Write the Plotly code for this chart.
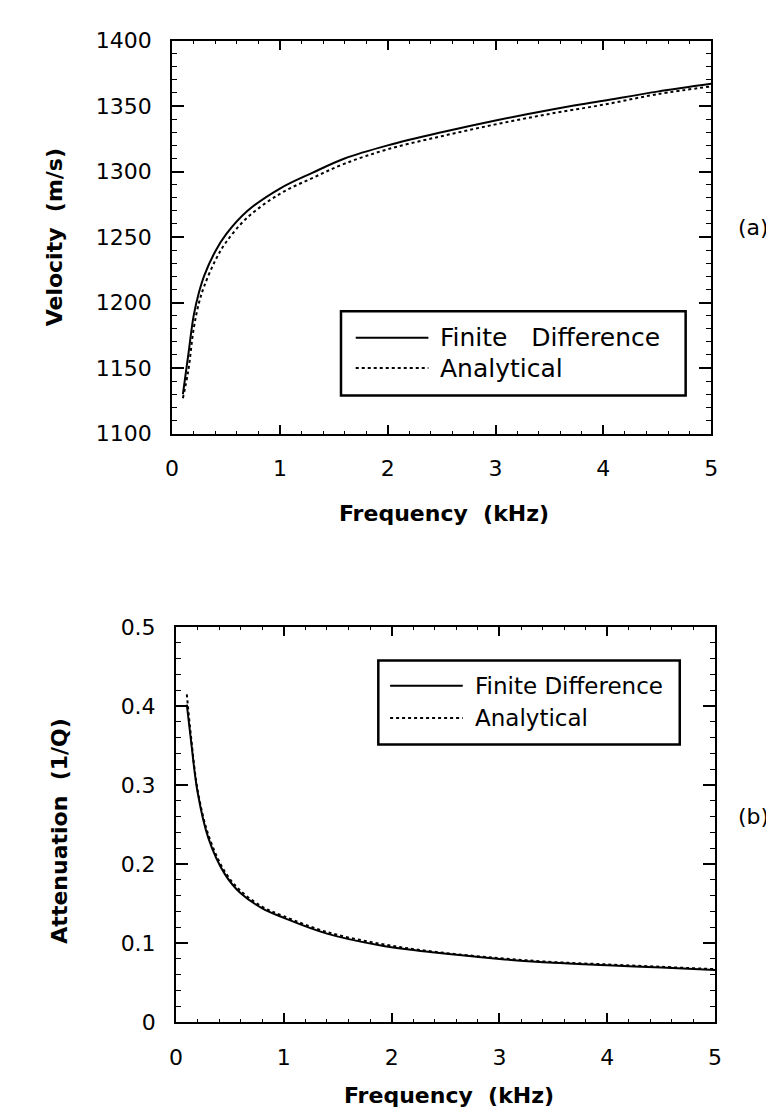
import plotly.graph_objects as go

# ---- data ----
freq_a = [0.1, 0.15, 0.2, 0.25, 0.3, 0.4, 0.5, 0.7, 1.0, 1.3, 1.6, 2.0, 2.5, 3.0, 3.5, 4.0, 4.5, 5.0]
vel_fd = [1130, 1160, 1190, 1208, 1221, 1239, 1252, 1270, 1287, 1299, 1310, 1320, 1330, 1339, 1347, 1354, 1361, 1367]
vel_an = [1127, 1148, 1180, 1200, 1213, 1232, 1246, 1265, 1283, 1295, 1306, 1317, 1327, 1336, 1344, 1351, 1359, 1365]

freq_b = [0.1, 0.14, 0.2, 0.3, 0.45, 0.6, 0.8, 1.0, 1.4, 1.9, 2.4, 3.0, 3.5, 4.0, 4.5, 5.0]
att_fd = [0.402, 0.355, 0.291, 0.233, 0.188, 0.163, 0.144, 0.132, 0.112, 0.097, 0.088, 0.080, 0.075, 0.072, 0.069, 0.066]
att_an = [0.415, 0.36, 0.294, 0.237, 0.191, 0.166, 0.146, 0.134, 0.114, 0.099, 0.089, 0.081, 0.076, 0.073, 0.070, 0.067]

names_a = ["Finite\u00a0\u00a0\u00a0Difference", "Analytical"]
names_b = ["Finite Difference", "Analytical"]
dashes = ["solid", "dot"]

W, H = 774, 1120
FONT = "DejaVu Sans"


def px(x):
    return x / W


def py(y):
    return 1 - y / H


fig = go.Figure()
fig.add_trace(go.Scatter(x=freq_a, y=vel_fd, mode="lines", name=names_a[0], line=dict(color="black", width=2, dash=dashes[0], shape="spline"), xaxis="x", yaxis="y"))
fig.add_trace(go.Scatter(x=freq_a, y=vel_an, mode="lines", name=names_a[1], line=dict(color="black", width=2, dash=dashes[1], shape="spline"), xaxis="x", yaxis="y"))
fig.add_trace(go.Scatter(x=freq_b, y=att_fd, mode="lines", name=names_b[0], line=dict(color="black", width=2, dash=dashes[0], shape="spline"), xaxis="x2", yaxis="y2"))
fig.add_trace(go.Scatter(x=freq_b, y=att_an, mode="lines", name=names_b[1], line=dict(color="black", width=2, dash=dashes[1], shape="spline"), xaxis="x2", yaxis="y2"))

tickfont = dict(family=FONT, size=22, color="black")
common_x = dict(range=[0, 5], dtick=1, tick0=0, ticks="inside", ticklen=9, tickwidth=1.5, tickcolor="black",
                showline=True, linecolor="black", linewidth=2, mirror="ticks", showgrid=False, zeroline=False,
                tickfont=tickfont, ticklabelstandoff=14,
                minor=dict(dtick=0.2, ticks="inside", ticklen=3, tickcolor="black", tickwidth=1))
common_y = dict(ticks="inside", ticklen=12, tickwidth=1.5, tickcolor="black",
                showline=True, linecolor="black", linewidth=2, mirror="ticks", showgrid=False, zeroline=False,
                tickfont=tickfont, ticklabelstandoff=14)

fig.update_layout(
    width=W, height=H, margin=dict(l=0, r=0, t=0, b=0),
    paper_bgcolor="white", plot_bgcolor="white", showlegend=False,
    xaxis=dict(domain=[px(160), px(709)], anchor="y", **common_x),
    yaxis=dict(domain=[py(423), py(21)], anchor="x", range=[1100, 1400], dtick=50, tick0=1100,
               minor=dict(dtick=10, ticks="inside", ticklen=5, tickcolor="black", tickwidth=1), **common_y),
    xaxis2=dict(domain=[px(164), px(713)], anchor="y2", **common_x),
    yaxis2=dict(domain=[py(1025), py(621)], anchor="x2", range=[0, 0.5], dtick=0.1, tick0=0,
                tickformat=".1~f",
                minor=dict(dtick=0.02, ticks="inside", ticklen=5, tickcolor="black", tickwidth=1), **common_y),
)

title_font = dict(family=FONT, size=22, color="black")
ann = [
    dict(text="<b>Frequency\u00a0\u00a0(kHz)</b>", x=px(437), y=py(505), xanchor="center", yanchor="middle"),
    dict(text="<b>Frequency\u00a0\u00a0(kHz)</b>", x=px(442), y=py(1100), xanchor="center", yanchor="middle"),
    dict(text="<b>Velocity\u00a0\u00a0(m/s)</b>", x=px(40), y=py(222), xanchor="center", yanchor="middle", textangle=-90),
    dict(text="<b>Attenuation\u00a0\u00a0(1/Q)</b>", x=px(45), y=py(830), xanchor="center", yanchor="middle", textangle=-90),
]
for a in ann:
    fig.add_annotation(xref="paper", yref="paper", showarrow=False, font=title_font, **a)

for lbl, yy in (("(a)", 212), ("(b)", 815)):
    fig.add_annotation(text=lbl, x=px(770), y=py(yy), xref="paper", yref="paper", showarrow=False,
                       xanchor="right", yanchor="middle", font=dict(family=FONT, size=22, color="black"))

# ---- legends (box, sample lines, labels) ----
legends = [
    dict(box=(332, 683, 298, 384), lx=(347, 421), rows=(325, 356), tx=431, names=names_a, fs=25),
    dict(box=(370, 677, 655, 741), lx=(382, 456), rows=(681, 714), tx=466, names=names_b, fs=23),
]
for lg in legends:
    l, r, t, b = lg["box"]
    fig.add_shape(type="rect", xref="paper", yref="paper", x0=px(l), x1=px(r), y0=py(b), y1=py(t),
                  line=dict(color="black", width=2.5), fillcolor="white", layer="above")
    for i, yy in enumerate(lg["rows"]):
        fig.add_shape(type="line", xref="paper", yref="paper", x0=px(lg["lx"][0]), x1=px(lg["lx"][1]),
                      y0=py(yy), y1=py(yy), line=dict(color="black", width=2, dash=dashes[i]), layer="above")
        fig.add_annotation(text=lg["names"][i], x=px(lg["tx"]), y=py(yy), xref="paper", yref="paper",
                           showarrow=False, xanchor="left", yanchor="middle",
                           font=dict(family=FONT, size=lg["fs"], color="black"))

fig.write_html("out.html")
